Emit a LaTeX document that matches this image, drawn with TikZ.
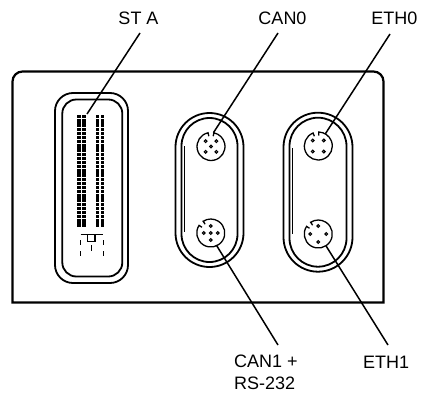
\documentclass[tikz,border=0pt]{standalone}
\usepackage{fontspec}
\setmainfont{Liberation Sans}
\usetikzlibrary{calc}

\tikzset{
	lbl/.style={font=\fontsize{18}{22}\selectfont, inner sep=0pt, align=left},
	housing/.style={draw, line width=1.8pt, rectangle, inner sep=0pt, outer sep=0pt},
	port/.style={circle, minimum size=28pt, inner sep=0pt, outer sep=0pt},
	leader/.style={line width=1.5pt},
	pin/.style={draw, line width=1.1pt}
}

% ring of a round port, with its key notch at angle #2
\newcommand{\portring}[2]{%
	\draw[line width=1.3pt] ([shift={(#2+12:10.5pt)}]#1.center) -- ([shift={(#2+12:14pt)}]#1.center)
		arc[start angle=#2+12, end angle=#2+348, radius=14pt] -- ([shift={(#2-12:10.5pt)}]#1.center);
}

\begin{document}
\begin{tikzpicture}[x=1pt, y=-1pt]
					\useasboundingbox (0,0) rectangle (422,399);

					% front plate
					\draw[line width=2.2pt] (12.5,200) [rounded corners=10pt] -- (12.5,71.5) -- (383.5,71.5) -- (383.5,200)
						[sharp corners] -- (383.5,302.5) -- (12.5,302.5) -- cycle;

					% ST A connector
					\node[housing, minimum width=73pt, minimum height=190pt, rounded corners=18pt] (stA-outer) at (91.5,188) {};
					\node[housing, minimum width=60pt, minimum height=177pt, rounded corners=14pt] (stA-inner) at (92.3,188) {};
					\foreach \r in {0,...,26}
						\foreach \c in {77.3,82.3,95.7,100.7}
							\fill (\c,115+4.17*\r) rectangle ++(3.5,3.4);
					\draw[line width=1.3pt] (80.7,234.5) -- (103.3,234.5);
					\draw[line width=1.3pt] (87.5,234.5) rectangle (95,241.5);
					\foreach \x in {80.7,103.3} {
						\draw[line width=1.4pt] (\x,240) -- (\x,245);
						\draw[line width=1.4pt] (\x,251) -- (\x,256);
					}
					\draw[line width=1.4pt] (91.5,245) -- (91.5,251);

					% CAN housing
					\node[housing, minimum width=68pt, minimum height=154pt, rounded corners=34pt] (can-outer) at (209.5,190) {};
					\node[housing, minimum width=56pt, minimum height=144pt, rounded corners=28pt] (can-inner) at (209.5,190) {};
					\draw[line width=0.9pt] ($(can-inner.west)+(2.5,-44)$) -- ($(can-inner.west)+(2.5,42)$);

					% ETH housing
					\node[housing, minimum width=69pt, minimum height=159pt, rounded corners=34.5pt] (eth-outer) at (318,192.2) {};
					\node[housing, minimum width=57pt, minimum height=149pt, rounded corners=28.5pt] (eth-inner) at (318,192.2) {};
					\draw[line width=0.9pt] ($(eth-inner.west)+(3,-44)$) -- ($(eth-inner.west)+(3,42)$);

					% round ports
					\node[port] (can0) at (211,146.5) {};
					\node[port] (can1) at (210.8,233) {};
					\node[port] (eth0) at (318.3,146) {};
					\node[port] (eth1) at (318.3,234) {};
					\portring{can0}{90}
					\portring{can1}{135}
					\portring{eth0}{100}
					\portring{eth1}{135}
					\foreach \a in {45,135,225,315}
						\draw[pin] ([shift={(\a:7.6pt)}]can0.center) circle (1.4pt);
					\draw[pin] (can0.center) circle (1.4pt);
					\foreach \a in {0,90,180,270}
						\draw[pin] ([shift={(\a:7pt)}]can1.center) circle (1.4pt);
					\draw[pin] (can1.center) circle (1.4pt);
					\foreach \a in {45,135,225,315}
						\draw[pin] ([shift={(\a:7.8pt)}]eth0.center) circle (1.4pt);
					\foreach \a in {0,90,180,270}
						\draw[pin] ([shift={(\a:8pt)}]eth1.center) circle (1.4pt);

					% labels and leaders
					\node[lbl] (stA) at (138.5,18.5) {ST A};
					\node[lbl] (can0-lbl) at (282.5,18.5) {CAN0};
					\node[lbl, anchor=east] (eth0-lbl) at (417.5,18.5) {ETH0};
					\node[lbl, anchor=north west] (can1-lbl) at (234,355) {CAN1 +\\RS-232};
					\node[lbl] (eth1-lbl) at (386,362.5) {ETH1};

					\coordinate (stA-tip) at (140,33);
					\coordinate (stA-end) at (87,114);
					\coordinate (can0-tip) at (278,33);
					\coordinate (eth0-tip) at (390,34);
					\coordinate (can1-tip) at (278,345);
					\coordinate (eth1-tip) at (388,345);
					\draw[leader] (stA-tip) -- (stA-end);
					\draw[leader] (can0-tip) -- (can0.80);
					\draw[leader] (eth0-tip) -- (eth0.60);
					\draw[leader] (can1.-65) -- (can1-tip);
					\draw[leader] (eth1.-57) -- (eth1-tip);
\end{tikzpicture}
\end{document}
